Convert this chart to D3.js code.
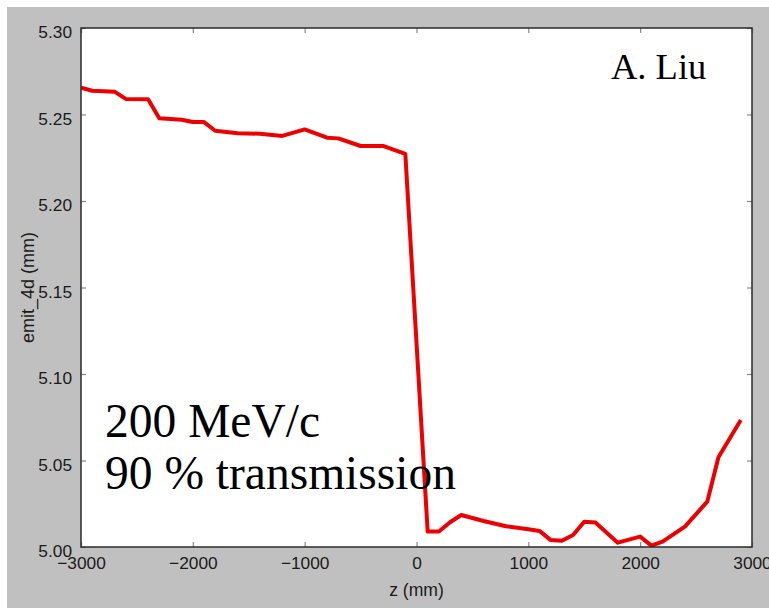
<!DOCTYPE html>
<html>
<head>
<meta charset="utf-8">
<script src="https://cdn.jsdelivr.net/npm/d3@7"></script>
<style>
  html, body { margin: 0; padding: 0; background: #ffffff; }
  svg { display: block; }
</style>
</head>
<body>
<svg id="chart" width="769" height="608"></svg>
<script>
// Longitudinal position along the channel (mm)
const zPositions = [
  -3000, -2900, -2700, -2600, -2400, -2300, -2100, -2000, -1900, -1800,
  -1600, -1400, -1200, -1000, -800, -700, -500, -300, -100,
  100, 200, 300, 400, 600, 800, 1000, 1100, 1200, 1300, 1400,
  1500, 1600, 1800, 2000, 2100, 2200, 2400, 2600, 2700, 2900
];
// 4D emittance at each position (mm)
const emit4d = [
  5.2655, 5.2637, 5.2632, 5.2590, 5.2588, 5.2478, 5.2470, 5.2457, 5.2456, 5.2406,
  5.2391, 5.2389, 5.2376, 5.2414, 5.2366, 5.2362, 5.2318, 5.2318, 5.2273,
  5.0089, 5.0090, 5.0143, 5.0185, 5.0150, 5.0120, 5.0103, 5.0093, 5.0040, 5.0036, 5.0069,
  5.0146, 5.0141, 5.0025, 5.0060, 5.0008, 5.0031, 5.0118, 5.0262, 5.0519, 5.0734
];
const xTicks = [-3000, -2000, -1000, 0, 1000, 2000, 3000];
const yTicks = [5.00, 5.05, 5.10, 5.15, 5.20, 5.25, 5.30];
const xLabel = "z (mm)";
const yLabel = "emit_4d (mm)";
const annotationLines = ["200 MeV/c", "90 % transmission"];
const author = "A. Liu";

const svg = d3.select("#chart");
const W = 769, H = 608;
const plot = { left: 81, top: 28, right: 752, bottom: 547 };

// figure background
svg.append("rect").attr("x", 7).attr("y", 7)
  .attr("width", W - 7).attr("height", H - 7).attr("fill", "#c0c0c0");
svg.append("rect").attr("x", plot.left).attr("y", plot.top)
  .attr("width", plot.right - plot.left).attr("height", plot.bottom - plot.top)
  .attr("fill", "#ffffff");

const x = d3.scaleLinear().domain([-3000, 3000]).range([plot.left, plot.right]);
const y = d3.scaleLinear().domain([5.00, 5.30]).range([plot.bottom, plot.top]);

const sansFont = "'Liberation Sans', Arial, Helvetica, sans-serif";
const serifFont = "'Liberation Serif', 'Times New Roman', serif";
const fmtX = d => d < 0 ? "\u2212" + Math.abs(d) : String(d);

// axes with inward ticks on all four sides
const tickLen = 5;
const axisBottom = d3.axisBottom(x).tickValues(xTicks).tickFormat(fmtX)
  .tickSizeInner(-tickLen).tickSizeOuter(0).tickPadding(10);
const axisTop = d3.axisTop(x).tickValues(xTicks).tickFormat("")
  .tickSizeInner(-tickLen).tickSizeOuter(0);
const axisLeft = d3.axisLeft(y).tickValues(yTicks).tickFormat(d3.format(".2f"))
  .tickSizeInner(-tickLen).tickSizeOuter(0).tickPadding(9);
const axisRight = d3.axisRight(y).tickValues(yTicks).tickFormat("")
  .tickSizeInner(-tickLen).tickSizeOuter(0);

function styleAxis(g) {
  g.select(".domain").remove();
  g.selectAll(".tick line").attr("stroke", "#888888").attr("stroke-width", 1.2);
  g.selectAll(".tick text").attr("fill", "#1a1a1a")
    .style("font-family", sansFont).style("font-size", "17.3px");
}

svg.append("g").attr("transform", `translate(0,${plot.bottom})`).call(axisBottom).call(styleAxis);
svg.append("g").attr("transform", `translate(0,${plot.top})`).call(axisTop).call(styleAxis);
const gLeft = svg.append("g").attr("transform", `translate(${plot.left},0)`).call(axisLeft).call(styleAxis);
gLeft.selectAll(".tick text").attr("dy", "0.55em");
svg.append("g").attr("transform", `translate(${plot.right},0)`).call(axisRight).call(styleAxis);

// clip the curve to the axes box
svg.append("clipPath").attr("id", "plotClip").append("rect")
  .attr("x", plot.left).attr("y", plot.top)
  .attr("width", plot.right - plot.left).attr("height", plot.bottom - plot.top);

const points = zPositions.map((z, i) => [z, emit4d[i]]);
const line = d3.line().x(d => x(d[0])).y(d => y(d[1]));
svg.append("path").datum(points)
  .attr("clip-path", "url(#plotClip)")
  .attr("d", line)
  .attr("fill", "none")
  .attr("stroke", "#ee0000")
  .attr("stroke-width", 4)
  .attr("stroke-linejoin", "round");

// axes frame
svg.append("rect").attr("x", plot.left).attr("y", plot.top)
  .attr("width", plot.right - plot.left).attr("height", plot.bottom - plot.top)
  .attr("fill", "none").attr("stroke", "#2a2a2a").attr("stroke-width", 1.5);

// axis labels
svg.append("text").attr("x", (plot.left + plot.right) / 2).attr("y", 596)
  .attr("text-anchor", "middle").attr("fill", "#1a1a1a")
  .style("font-family", sansFont).style("font-size", "17.6px").text(xLabel);
svg.append("text")
  .attr("transform", `translate(33.5,${(plot.top + plot.bottom) / 2}) rotate(-90)`)
  .attr("text-anchor", "middle").attr("fill", "#1a1a1a")
  .style("font-family", sansFont).style("font-size", "18px").text(yLabel);

// annotations
svg.append("text").attr("x", 105).attr("y", 437)
  .attr("fill", "#000").style("font-family", serifFont).style("font-size", "47.5px")
  .text(annotationLines[0]);
svg.append("text").attr("x", 105).attr("y", 488.5)
  .attr("fill", "#000").style("font-family", serifFont).style("font-size", "47.5px")
  .text(annotationLines[1]);
svg.append("text").attr("x", 611).attr("y", 78.5)
  .attr("fill", "#000").style("font-family", serifFont).style("font-size", "36.5px")
  .text(author);
</script>
</body>
</html>
